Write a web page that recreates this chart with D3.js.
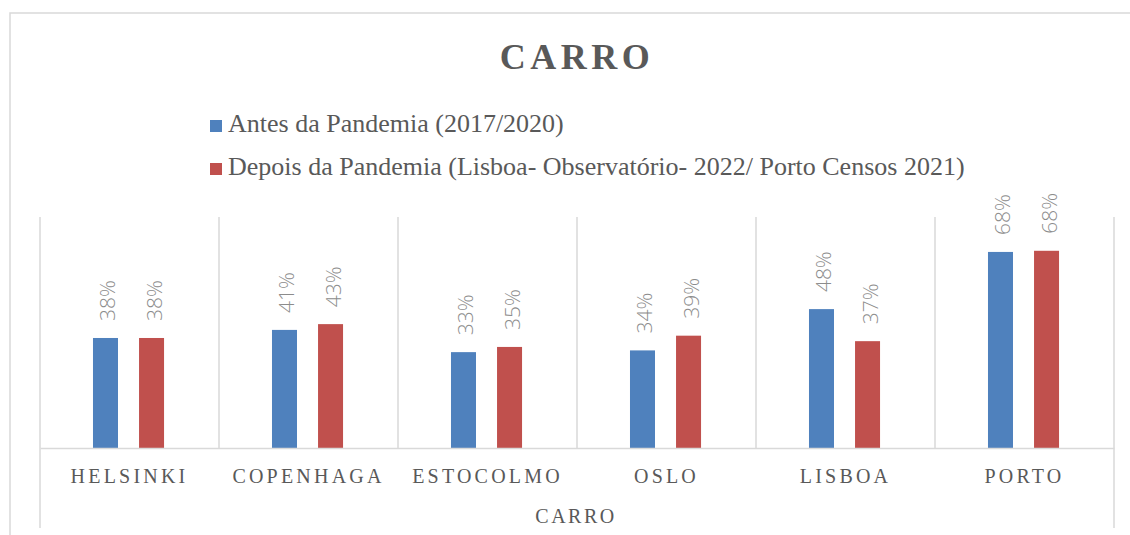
<!DOCTYPE html>
<html>
<head>
<meta charset="utf-8">
<script src="https://cdn.jsdelivr.net/npm/d3@7"></script>
<style>
  body { margin: 0; background: #fff; }
  svg { display: block; }
</style>
</head>
<body>
<script>
// Chart data
let categories = ["HELSINKI", "COPENHAGA", "ESTOCOLMO", "OSLO", "LISBOA", "PORTO"]
let seriesNames = ["Antes da Pandemia (2017/2020)",
  "Depois da Pandemia (Lisboa- Observatório- 2022/ Porto Censos 2021)"]
let antes = [0.381, 0.409, 0.332, 0.338, 0.481, 0.679]
let depois = [0.381, 0.429, 0.350, 0.389, 0.370, 0.683]
let labelsAntes = ["38%", "41%", "33%", "34%", "48%", "68%"]
let labelsDepois = ["38%", "43%", "35%", "39%", "37%", "68%"]
let colors = ["#4f81bd", "#c0504d"]

let width = 1130, height = 535
let svg = d3.select("body").append("svg")
    .attr("width", width)
    .attr("height", height)

let grid = "#d9d9d9"
let textColor = "#595959"
let serif = "'Liberation Serif', 'Times New Roman', serif"

// outer chart border (top and left edges visible)
svg.append("path")
    .attr("d", "M10,540 V13 H1135")
    .attr("fill", "none")
    .attr("stroke", grid)
    .attr("stroke-width", 1.5)

// title
svg.append("text")
    .attr("x", 577)
    .attr("y", 69)
    .attr("text-anchor", "middle")
    .attr("font-family", serif)
    .attr("font-weight", "bold")
    .attr("font-size", 36)
    .attr("letter-spacing", 4.5)
    .attr("fill", textColor)
    .text("CARRO")

// legend
let legend = svg.append("g")
seriesNames.forEach((name, i) => {
  let g = legend.append("g").attr("transform", `translate(210, ${120 + i * 43})`)
  g.append("rect").attr("width", 12).attr("height", 12).attr("fill", colors[i])
  g.append("text")
      .attr("x", 18)
      .attr("y", 12)
      .attr("font-family", serif)
      .attr("font-size", 26)
      .attr("fill", textColor)
      .text(name)
})

// scales
let x = d3.scaleBand()
    .domain(categories)
    .range([40, 1114])

let x1 = d3.scaleBand()
    .domain([0, 1])
    .range([x.bandwidth() * 0.296, x.bandwidth() * 0.693])
    .paddingInner(0.457)

let y = d3.scaleLinear()
    .domain([0, 0.8])
    .range([448, 217])

// separators between categories
let edges = categories.map(c => x(c)).concat([x.range()[1]])
svg.append("g").selectAll("line")
    .data(edges)
    .enter()
    .append("line")
    .attr("x1", d => d)
    .attr("x2", d => d)
    .attr("y1", y(0.8))
    .attr("y2", (d, i) => (i === 0 || i === edges.length - 1) ? 528 : y(0))
    .attr("stroke", grid)
    .attr("stroke-width", 1.5)

// bars
let rows = categories.map((c, i) => ({ cat: c, vals: [antes[i], depois[i]], labels: [labelsAntes[i], labelsDepois[i]] }))

let groups = svg.append("g").selectAll("g")
    .data(rows)
    .enter()
    .append("g")
    .attr("transform", d => `translate(${x(d.cat)}, 0)`)

groups.selectAll("rect")
    .data(d => d.vals.map((v, k) => ({ k: k, v: v })))
    .enter()
    .append("rect")
    .attr("x", d => x1(d.k))
    .attr("width", x1.bandwidth())
    .attr("y", d => y(d.v))
    .attr("height", d => y(0) - y(d.v))
    .attr("fill", d => colors[d.k])

// data labels, rotated
groups.selectAll("text")
    .data(d => d.vals.map((v, k) => ({ k: k, v: v, label: d.labels[k] })))
    .enter()
    .append("text")
    .attr("transform", d => `translate(${x1(d.k) + x1.bandwidth() / 2 + 10}, ${y(d.v) - 17}) rotate(-90)`)
    .attr("font-family", "'Open Sans', 'Liberation Sans', sans-serif")
    .attr("font-weight", 300)
    .attr("font-size", 21)
    .attr("fill", "#8c8c8c")
    .text(d => d.label)

// category axis
let xAxis = svg.append("g")
    .attr("transform", `translate(0, ${y(0)})`)
    .call(d3.axisBottom(x).tickSize(0).tickPadding(0))
xAxis.select(".domain")
    .attr("stroke", grid)
    .attr("stroke-width", 1.5)
xAxis.selectAll(".tick text")
    .attr("y", 35)
    .attr("dy", 0)
    .attr("font-family", serif)
    .attr("font-size", 20)
    .attr("letter-spacing", 3.2)
    .attr("fill", textColor)

// axis title
svg.append("text")
    .attr("x", 576)
    .attr("y", 523)
    .attr("text-anchor", "middle")
    .attr("font-family", serif)
    .attr("font-size", 20)
    .attr("letter-spacing", 2.5)
    .attr("fill", textColor)
    .text("CARRO")
</script>
</body>
</html>
